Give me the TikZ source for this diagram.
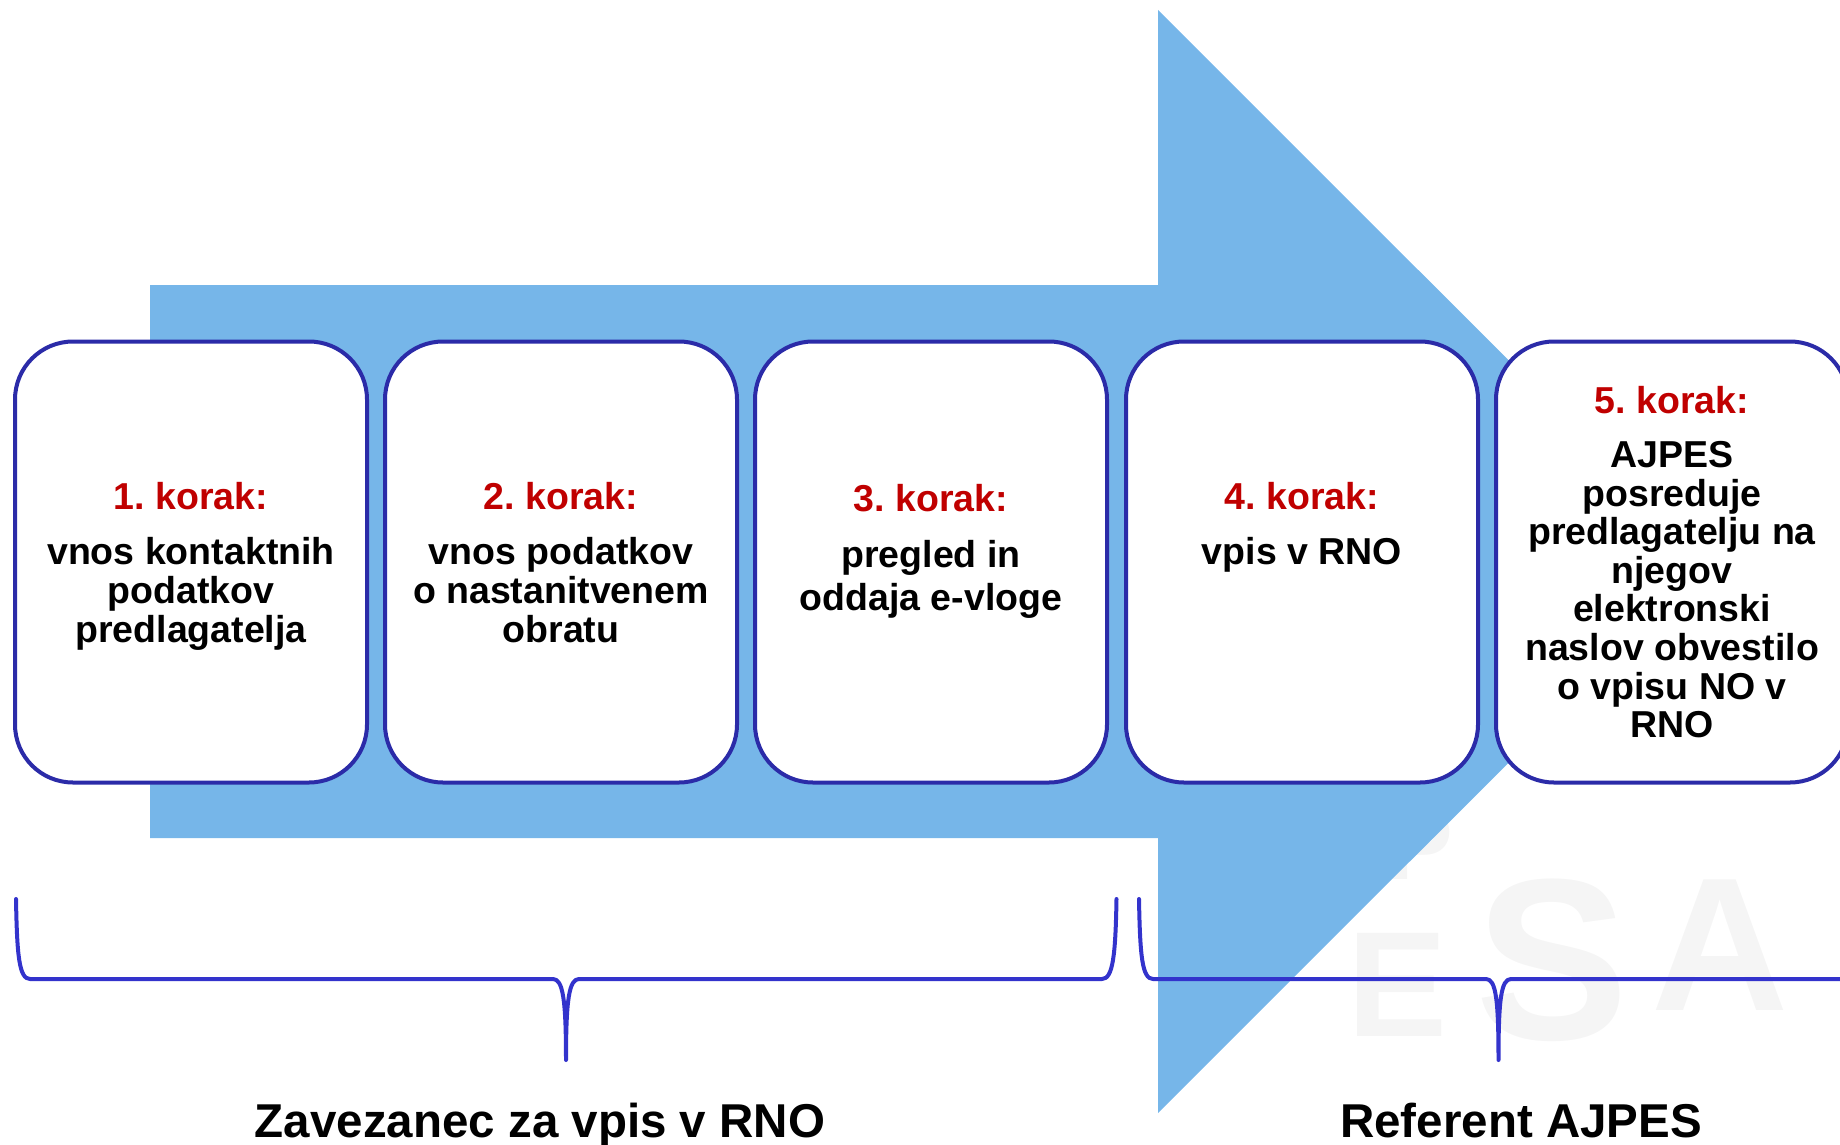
\documentclass[tikz,border=0pt]{standalone}
\usepackage{fontspec}
\setmainfont{Liberation Sans}
\frenchspacing
\usetikzlibrary{positioning}
\definecolor{arrowblue}{RGB}{118,182,233}
\definecolor{boxblue}{RGB}{43,43,168}
\definecolor{braceblue}{RGB}{51,51,204}
\definecolor{korakred}{RGB}{192,0,0}
\definecolor{wmgray}{RGB}{245,245,245}
\tikzset{stepbox/.style = {draw = boxblue, line width = 4, fill = white, rounded corners = 58, minimum width = 352, minimum height = 441, inner sep = 0}}
\tikzset{steptext/.style = {align = center, inner sep = 0, anchor = north, font = \bfseries\fontsize{37.5}{38.6}\selectfont}}
\tikzset{teamlabel/.style = {anchor = base, inner sep = 0, font = \bfseries\fontsize{47.5}{50}\selectfont}}
\tikzset{brace/.style = {draw = braceblue, line width = 4, line cap = round, line join = round}}
\tikzset{wm/.style = {text = wmgray, inner sep = 0}}

\begin{document}
\begin{tikzpicture}[x = 1pt, y = -1pt]
    \useasboundingbox (0, 0) rectangle (1840, 1145);

    % faint logo letters in the background
    \node [wm, font = \bfseries\fontsize{230}{230}\selectfont] (wm1) at (1552, 960) {S};
    \node [wm, font = \bfseries\fontsize{190}{190}\selectfont] (wm2) at (1720, 945) {A};
    \node [wm, font = \bfseries\fontsize{150}{150}\selectfont] (wm3) at (1398, 985) {E};
    \node [wm, font = \bfseries\fontsize{100}{100}\selectfont] (wm4) at (1420, 845) {P};

    \fill [arrowblue] (150, 285) -- (1158, 285) -- (1158, 10) -- (1710, 561.5)
        -- (1158, 1113) -- (1158, 838) -- (150, 838) -- cycle;

    \node [stepbox] (step1) at (191, 562) {};
    \node [stepbox] (step2) at (561, 562) {};
    \node [stepbox] (step3) at (931, 562) {};
    \node [stepbox] (step4) at (1302, 562) {};
    \node [stepbox] (step5) at (1672, 562) {};

    \node [steptext] (text1) at (191, 482) {\textcolor{korakred}{1. korak:}\\[17pt]
        vnos kontaktnih\\podatkov\\predlagatelja};
    \node [steptext] (text2) at (561, 482) {\textcolor{korakred}{2. korak:}\\[17pt]
        vnos podatkov\\o nastanitvenem\\obratu};
    \node [steptext, font = \bfseries\fontsize{37.5}{43}\selectfont] (text3) at (931, 484.5)
        {\textcolor{korakred}{3. korak:}\\[13pt] pregled in\\oddaja e-vloge};
    \node [steptext] (text4) at (1302, 482) {\textcolor{korakred}{4. korak:}\\[17pt]
        vpis v RNO};
    \node [steptext] (text5) at (1672, 386.5) {\textcolor{korakred}{5. korak:}\\[15pt]
        AJPES\\posreduje\\predlagatelju na\\njegov\\elektronski\\naslov obvestilo\\o vpisu NO v\\RNO};

    \draw [brace] (16, 899) .. controls (17, 955) and (19, 979) .. (30, 979) -- (553, 979)
        .. controls (563, 979) and (566, 1000) .. (566, 1060)
        .. controls (566, 1000) and (569, 979) .. (579, 979) -- (1102, 979)
        .. controls (1113, 979) and (1115.5, 955) .. (1116.5, 899);
    \draw [brace] (1139, 899) .. controls (1140, 955) and (1142, 979) .. (1153, 979) -- (1486, 979)
        .. controls (1496, 979) and (1498.5, 1000) .. (1498.5, 1060)
        .. controls (1498.5, 1000) and (1501, 979) .. (1511, 979) -- (1845, 979)
        .. controls (1855, 979) and (1857, 955) .. (1858, 899);

    \node [teamlabel] (team1) at (540, 1137) {Zavezanec za vpis v RNO};
    \node [teamlabel] (team2) at (1521, 1137) {Referent AJPES};
  \end{tikzpicture}
\end{document}
